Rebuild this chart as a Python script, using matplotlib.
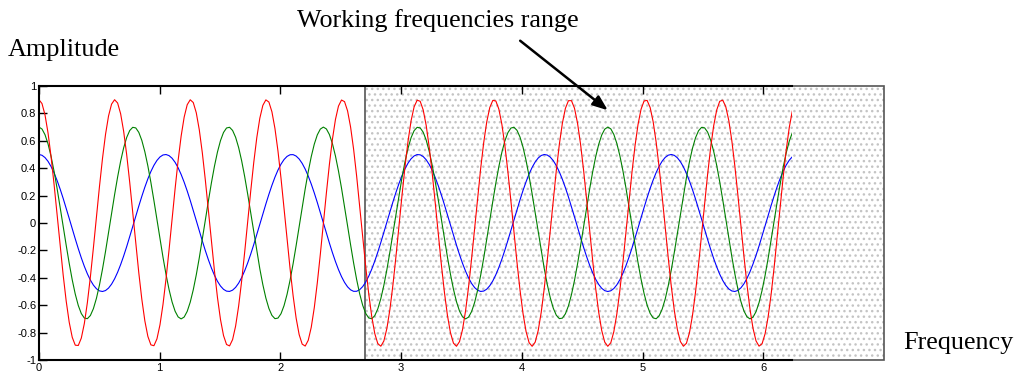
import matplotlib.pyplot as plt
import numpy as np
from matplotlib.patches import Rectangle

# curve parameters (amplitude, angular frequency)
amplitudes = [0.5, 0.7, 0.9]
omegas = [6, 8, 10]
colors = ["blue", "green", "red"]
x_end = 6.24

# working range band
band_start = 2.7
band_end = 7.0

x_ticks = [0, 1, 2, 3, 4, 5, 6]
y_ticks = [-1, -0.8, -0.6, -0.4, -0.2, 0, 0.2, 0.4, 0.6, 0.8, 1]
y_labels = ["-1", "-0.8", "-0.6", "-0.4", "-0.2", "0", "0.2", "0.4", "0.6", "0.8", "1"]

fig = plt.figure(figsize=(10.25, 3.75), dpi=100)
ax = fig.add_axes([0.038, 0.04, 0.735, 0.7307])

x = np.linspace(0, x_end, 250)
for a, w, c in zip(amplitudes, omegas, colors):
    ax.plot(x, a * np.cos(w * x), color=c, lw=0.8, zorder=3)

# dotted band, goes past the axes on the right
band = Rectangle((band_start, -1), band_end - band_start, 2, facecolor="white",
                 edgecolor="#c4c4c4", hatch="...", lw=0, clip_on=False, zorder=1)
ax.add_patch(band)
ax.add_patch(Rectangle((band_start, -1), band_end - band_start, 2, fill=False,
                       edgecolor="#555555", lw=1.2, clip_on=False, zorder=2))

ax.set_xlim(0, x_end)
ax.set_ylim(-1, 1)
ax.set_xticks(x_ticks)
ax.set_yticks(y_ticks)
ax.set_yticklabels(y_labels)
ax.tick_params(direction="in", length=6, width=1, top=True, right=False,
               labelsize=8, pad=2)
for lab in ax.get_xticklabels() + ax.get_yticklabels():
    lab.set_family("Liberation Sans")
ax.spines["right"].set_visible(False)
for s in ["top", "bottom", "left"]:
    ax.spines[s].set_linewidth(1.5)
    ax.spines[s].set_zorder(4)

serif = "Liberation Serif"
fig.text(0.008, 0.867, "Amplitude", family=serif, fontsize=18.8, va="center")
fig.text(0.29, 0.944, "Working frequencies range", family=serif, fontsize=18.8, va="center")
fig.text(0.881, 0.086, "Frequency", family=serif, fontsize=18.8, va="center")

ax.annotate("", xy=(610, 375 - 112), xytext=(518, 375 - 39),
            xycoords="figure pixels", textcoords="figure pixels",
            arrowprops=dict(arrowstyle="-|>,head_length=0.9,head_width=0.35",
                            color="black", lw=1.8))

fig.savefig("out.png", dpi=100)
